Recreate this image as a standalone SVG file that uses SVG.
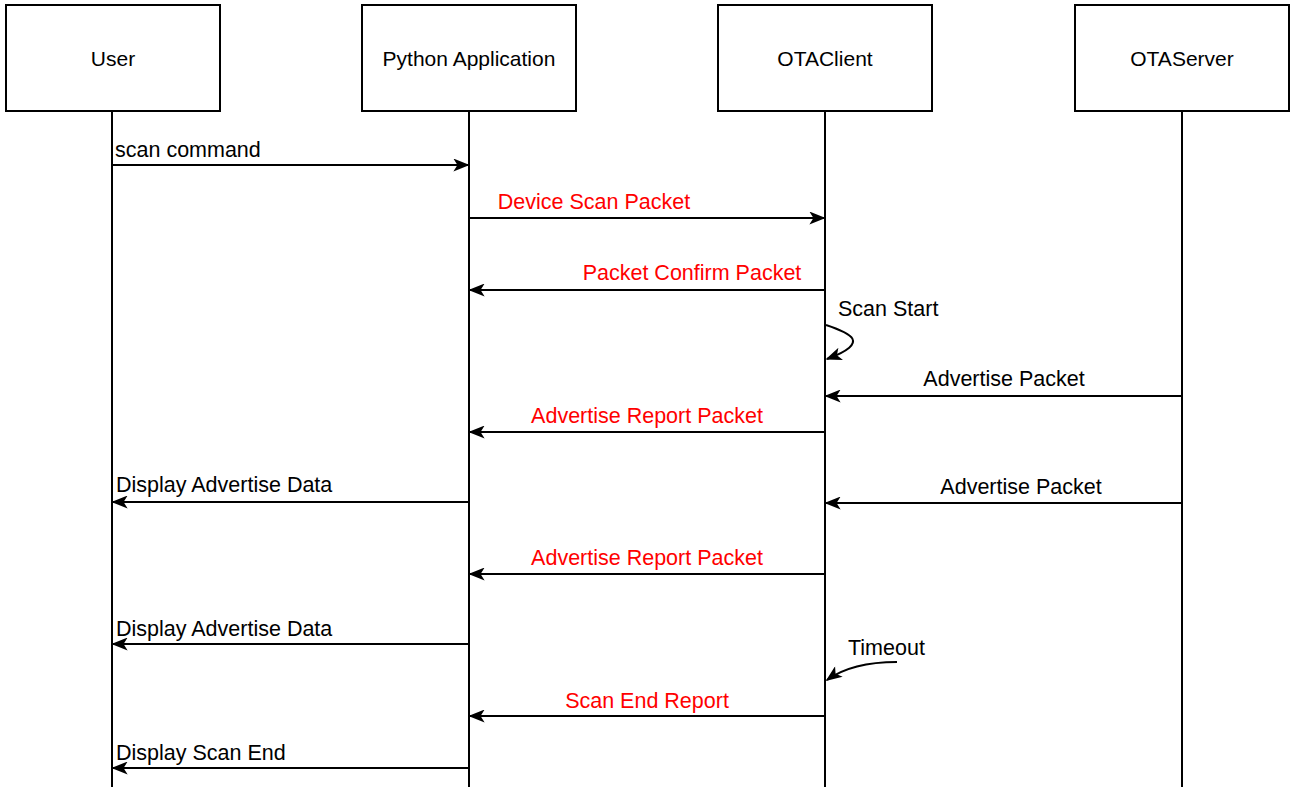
<svg xmlns="http://www.w3.org/2000/svg" width="1290" height="787" viewBox="0 0 1290 787">
<style>
.box{fill:#fff;stroke:#000;stroke-width:2}
.life{stroke:#000;stroke-width:2;fill:none}
.msg{stroke:#000;stroke-width:2;fill:none;marker-end:url(#ah)}
text{font-family:"Liberation Sans",Arial,sans-serif;font-size:21.5px;fill:#000}
.lbl{font-size:21px}
.red{fill:#ff0000}
.c{text-anchor:middle}
</style>
<defs>
<marker id="ah" viewBox="0 0 20 16" refX="18" refY="8" markerWidth="17" markerHeight="13" markerUnits="userSpaceOnUse" orient="auto">
<path d="M0,0 L20,8 L0,16 L5,8 Z" fill="#000"/>
</marker>
</defs>
<g id="user"><rect class="box" x="6" y="5" width="214" height="106"/><text class="c lbl" x="113" y="66">User</text><line class="life" x1="112" y1="111" x2="112" y2="787"/></g>
<g id="python"><rect class="box" x="362" y="5" width="214" height="106"/><text class="c lbl" x="469" y="66">Python Application</text><line class="life" x1="469" y1="111" x2="469" y2="787"/></g>
<g id="otaclient"><rect class="box" x="718" y="5" width="214" height="106"/><text class="c lbl" x="825" y="66">OTAClient</text><line class="life" x1="825" y1="111" x2="825" y2="787"/></g>
<g id="otaserver"><rect class="box" x="1075" y="5" width="214" height="106"/><text class="c lbl" x="1182" y="66">OTAServer</text><line class="life" x1="1182" y1="111" x2="1182" y2="787"/></g>
<g id="connectors">
<line class="msg" x1="112" y1="165" x2="468" y2="165"/>
<text x="115" y="157">scan command</text>
<line class="msg" x1="469" y1="218" x2="824" y2="218"/>
<text class="c red" x="594" y="209">Device Scan Packet</text>
<line class="msg" x1="825" y1="290" x2="470" y2="290"/>
<text class="c red" x="692" y="280">Packet Confirm Packet</text>
<path class="msg" d="M826,325 C850,333 872,342 827,359"/>
<text x="838" y="316">Scan Start</text>
<line class="msg" x1="1182" y1="396" x2="826" y2="396"/>
<text class="c" x="1004" y="386">Advertise Packet</text>
<line class="msg" x1="825" y1="432" x2="470" y2="432"/>
<text class="c red" x="647" y="423">Advertise Report Packet</text>
<line class="msg" x1="469" y1="502" x2="113" y2="502"/>
<text x="116" y="492">Display Advertise Data</text>
<line class="msg" x1="1182" y1="503" x2="826" y2="503"/>
<text class="c" x="1021" y="494">Advertise Packet</text>
<line class="msg" x1="825" y1="574" x2="470" y2="574"/>
<text class="c red" x="647" y="565">Advertise Report Packet</text>
<line class="msg" x1="469" y1="644" x2="113" y2="644"/>
<text x="116" y="636">Display Advertise Data</text>
<path class="msg" d="M897,662 C870,662 845,667 827,680"/>
<text x="848" y="655">Timeout</text>
<line class="msg" x1="825" y1="716" x2="470" y2="716"/>
<text class="c red" x="647" y="708">Scan End Report</text>
<line class="msg" x1="469" y1="768" x2="113" y2="768"/>
<text x="116" y="760">Display Scan End</text>
</g>
</svg>
